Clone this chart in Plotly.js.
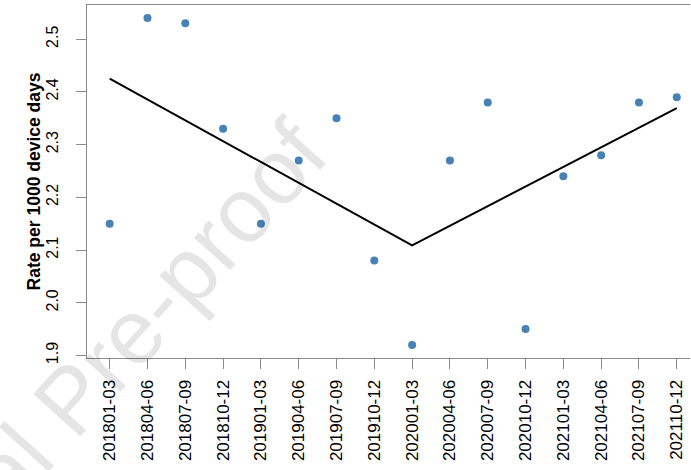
<!DOCTYPE html>
<html>
<head>
<meta charset="utf-8">
<script src="https://cdn.plot.ly/plotly-3.0.1.min.js"></script>
<style>
  html, body { margin: 0; padding: 0; background: #ffffff; overflow: hidden; }
  #chart { width: 691px; height: 470px; }
</style>
</head>
<body>
<div id="chart"></div>
<script>
// Quarterly periods
const quarters = [
  '201801-03', '201804-06', '201807-09', '201810-12',
  '201901-03', '201904-06', '201907-09', '201910-12',
  '202001-03', '202004-06', '202007-09', '202010-12',
  '202101-03', '202104-06', '202107-09', '202110-12'
];

// Observed rate per 1000 device days
const rates = [
  2.15, 2.54, 2.53, 2.33,
  2.15, 2.27, 2.35, 2.08,
  1.92, 2.27, 2.38, 1.95,
  2.24, 2.28, 2.38, 2.39
];

// Segmented trend: start, breakpoint, end
const trendQuarters = ['201801-03', '202001-03', '202110-12'];
const trendRates = [2.425, 2.109, 2.369];

// Y axis ticks
const yTicks = [1.9, 2.0, 2.1, 2.2, 2.3, 2.4, 2.5];
const yTickText = ['1.9', '2.0', '2.1', '2.2', '2.3', '2.4', '2.5'];

const yTitle = 'Rate per 1000 device days';

const fontFamily = 'Liberation Sans, Arial, Helvetica, sans-serif';
const axisGrey = '#8a8a8a';

const traces = [
  {
    x: trendQuarters,
    y: trendRates,
    type: 'scatter',
    mode: 'lines',
    line: { color: '#000000', width: 2 },
    hoverinfo: 'skip'
  },
  {
    x: quarters,
    y: rates,
    type: 'scatter',
    mode: 'markers',
    marker: { color: '#4682B4', size: 8 }
  }
];

const layout = {
  width: 691,
  height: 470,
  margin: { l: 87, r: 1, t: 5, b: 112 },
  paper_bgcolor: '#ffffff',
  plot_bgcolor: '#ffffff',
  showlegend: false,
  font: { family: fontFamily, color: '#000000' },
  xaxis: {
    type: 'category',
    categoryorder: 'array',
    categoryarray: quarters,
    range: [-0.6, 15.35],
    showgrid: false,
    zeroline: false,
    showline: true,
    mirror: true,
    linecolor: axisGrey,
    linewidth: 1,
    ticks: 'outside',
    ticklen: 10,
    tickcolor: axisGrey,
    tickangle: -90,
    ticklabelstandoff: 4,
    tickfont: { size: 17, family: fontFamily, color: '#000000' },
    automargin: false,
    fixedrange: true
  },
  yaxis: {
    range: [1.8952, 2.5648],
    tickvals: yTicks,
    ticktext: yTickText,
    showgrid: false,
    zeroline: false,
    showline: true,
    mirror: false,
    linecolor: axisGrey,
    linewidth: 1,
    ticks: 'outside',
    ticklen: 10,
    tickcolor: axisGrey,
    tickangle: -90,
    ticklabelstandoff: 12,
    tickfont: { size: 16, family: fontFamily, color: '#000000' },
    automargin: false,
    fixedrange: true
  },
  annotations: [
    {
      // y axis title
      text: '<b>' + yTitle + '</b>',
      xref: 'paper',
      yref: 'paper',
      x: -0.088,
      y: 0.5,
      xanchor: 'center',
      yanchor: 'middle',
      showarrow: false,
      textangle: -90,
      font: { size: 17.5, family: fontFamily, color: '#000000' }
    },
    {
      // faint diagonal watermark
      text: 'Journal Pre-proof',
      xref: 'paper',
      yref: 'paper',
      x: -0.028,
      y: -0.119,
      xanchor: 'center',
      yanchor: 'middle',
      showarrow: false,
      textangle: -48,
      font: { size: 92, family: fontFamily, color: 'rgba(0,0,0,0.1)' }
    }
  ]
};

Plotly.newPlot('chart', traces, layout, { displayModeBar: false, staticPlot: true });
</script>
</body>
</html>
